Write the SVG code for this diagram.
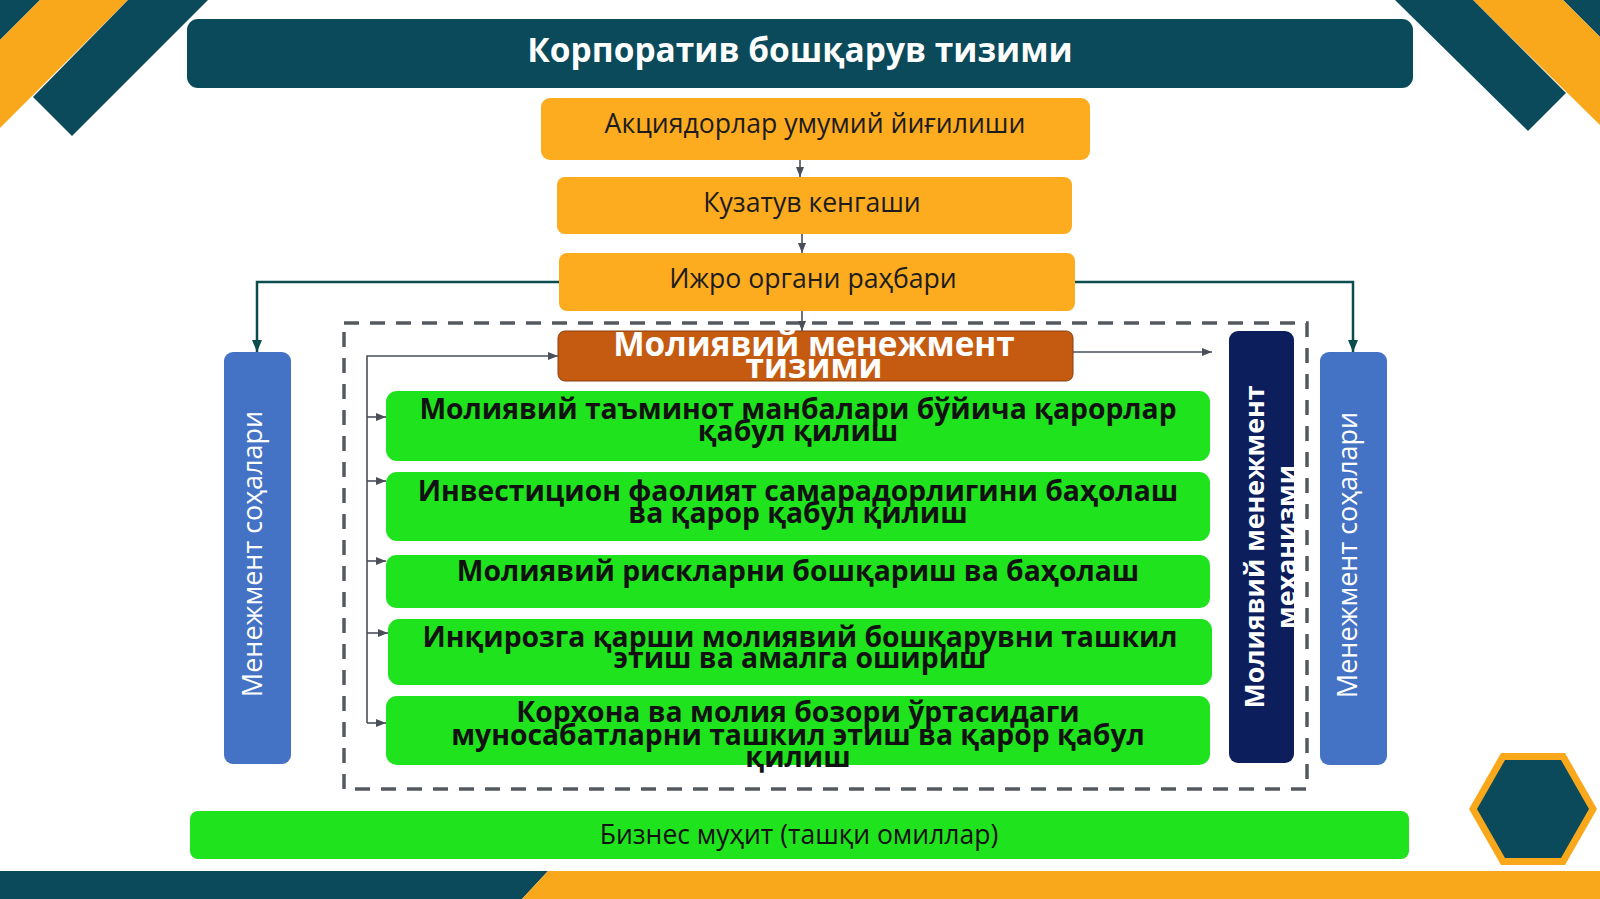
<svg xmlns="http://www.w3.org/2000/svg" width="1600" height="899" viewBox="0 0 1600 899">
<defs>
<style>
.t{font-family:"Open Sans","Noto Sans","DejaVu Sans",sans-serif}
.org{fill:#fdab1f}
.grn{fill:#1fe31c}
.ot{font-size:26.6px;fill:#1c1c1c;text-anchor:middle}
.gt{font-size:28.3px;font-weight:bold;fill:#111;text-anchor:middle}
.wt{fill:#fff;text-anchor:middle}
.cg{fill:none;stroke:#4a505a;stroke-width:1.6}
.ct{fill:none;stroke:#0b4c4c;stroke-width:2.5}
</style>
<marker id="ag" markerWidth="10" markerHeight="8" refX="10" refY="4" orient="auto" markerUnits="userSpaceOnUse"><path d="M0,0 L10,4 L0,8 Z" fill="#4a505a"/></marker>
<marker id="at" markerWidth="12" markerHeight="10" refX="12" refY="5" orient="auto" markerUnits="userSpaceOnUse"><path d="M0,0 L12,5 L0,10 Z" fill="#0b4c4c"/></marker>
</defs>
<rect width="1600" height="899" fill="#fff"/>
<g id="decor">
<polygon points="0,0 40,0 0,40" fill="#0b4a5a"/>
<polygon points="40,0 128,0 0,128 0,40" fill="#f9a81b"/>
<polygon points="128,0 208,0 72,136 33,97" fill="#0b4a5a"/>
<polygon points="1600,0 1563,0 1600,37" fill="#0b4a5a"/>
<polygon points="1473,0 1563,0 1600,37 1600,125" fill="#f9a81b"/>
<polygon points="1395,0 1473,0 1566,93 1528,131" fill="#0b4a5a"/>
<polygon points="0,871 548,871 522,899 0,899" fill="#0b4a5a"/>
<polygon points="548,871 1600,871 1600,899 522,899" fill="#f9a81b"/>
<polygon points="1469,809 1501,753 1565,753 1597,809 1565,865 1501,865" fill="#f9a81b"/>
<polygon points="1477,809 1505,760 1561,760 1589,809 1561,858 1505,858" fill="#0b4a5a"/>
</g>
<g id="title">
<rect x="187" y="19" width="1226" height="69" rx="11" fill="#0b4a5a"/>
<text class="t wt" x="800" y="62" font-size="33.5" font-weight="bold">Корпоратив бошқарув тизими</text>
</g>
<g id="dashed-frame">
<rect x="344" y="323" width="963" height="466" fill="none" stroke="#555a60" stroke-width="3.5" stroke-dasharray="15 11"/>
</g>
<g id="n-aksiyadorlar">
<rect class="org" x="541" y="98" width="549" height="62" rx="9"/>
<text class="t ot" x="815" y="133">Акциядорлар умумий йиғилиши</text>
</g>
<g id="n-kuzatuv">
<rect class="org" x="557" y="177" width="515" height="57" rx="8"/>
<text class="t ot" x="812" y="212">Кузатув кенгаши</text>
</g>
<g id="n-ijro">
<rect class="org" x="559" y="253" width="516" height="58" rx="8"/>
<text class="t ot" x="813" y="288">Ижро органи раҳбари</text>
</g>
<g id="n-tizim">
<rect x="558" y="331" width="515" height="50" rx="7" fill="#c55a11" stroke="#8a3e0c" stroke-width="1"/>
<text class="t wt" x="814" y="356" font-size="33.3" font-weight="bold">Молиявий менежмент</text>
<text class="t wt" x="814" y="378" font-size="33.3" font-weight="bold">тизими</text>
</g>
<g id="n-g1">
<rect class="grn" x="386" y="391" width="824" height="70" rx="11"/>
<text class="t gt" x="798" y="419">Молиявий таъминот манбалари бўйича қарорлар</text>
<text class="t gt" x="798" y="441">қабул қилиш</text>
</g>
<g id="n-g2">
<rect class="grn" x="386" y="472" width="824" height="69" rx="11"/>
<text class="t gt" x="798" y="501">Инвестицион фаолият самарадорлигини баҳолаш</text>
<text class="t gt" x="798" y="523">ва қарор қабул қилиш</text>
</g>
<g id="n-g3">
<rect class="grn" x="386" y="555" width="824" height="53" rx="10"/>
<text class="t gt" x="798" y="581">Молиявий рискларни бошқариш ва баҳолаш</text>
</g>
<g id="n-g4">
<rect class="grn" x="388" y="619" width="824" height="66" rx="11"/>
<text class="t gt" x="800" y="647">Инқирозга қарши молиявий бошқарувни ташкил</text>
<text class="t gt" x="800" y="668">этиш ва амалга ошириш</text>
</g>
<g id="n-g5">
<rect class="grn" x="386" y="696" width="824" height="69" rx="11"/>
<text class="t gt" x="798" y="722">Корхона ва молия бозори ўртасидаги</text>
<text class="t gt" x="798" y="745">муносабатларни ташкил этиш ва қарор қабул</text>
<text class="t gt" x="798" y="767">қилиш</text>
</g>
<g id="n-left-blue">
<rect x="224" y="352" width="67" height="412" rx="9" fill="#4472c4"/>
<text class="t wt" transform="translate(262,554) rotate(-90)" x="0" y="0" font-size="27">Менежмент соҳалари</text>
</g>
<g id="n-mexanizm">
<rect x="1229" y="331" width="65" height="432" rx="9" fill="#0c1e5c"/>
<text class="t wt" transform="translate(1264,547) rotate(-90)" x="0" y="0" font-size="26.8" font-weight="bold">Молиявий менежмент</text>
<text class="t wt" transform="translate(1296,547) rotate(-90)" x="0" y="0" font-size="26.8" font-weight="bold">механизми</text>
</g>
<g id="n-right-blue">
<rect x="1320" y="352" width="67" height="413" rx="9" fill="#4472c4"/>
<text class="t wt" transform="translate(1357,555) rotate(-90)" x="0" y="0" font-size="27">Менежмент соҳалари</text>
</g>
<g id="n-biznes">
<rect class="grn" x="190" y="811" width="1219" height="48" rx="8"/>
<text class="t" x="799" y="844" font-size="26.5" fill="#111" text-anchor="middle">Бизнес муҳит (ташқи омиллар)</text>
</g>
<g id="connectors">
<line class="cg" x1="800" y1="160" x2="800" y2="177" marker-end="url(#ag)"/>
<line class="cg" x1="802" y1="234" x2="802" y2="253" marker-end="url(#ag)"/>
<line class="cg" x1="802" y1="311" x2="802" y2="331" marker-end="url(#ag)"/>
<polyline class="ct" points="559,282 257,282 257,352" marker-end="url(#at)"/>
<polyline class="ct" points="1075,282 1353,282 1353,352" marker-end="url(#at)"/>
<line class="cg" x1="1073" y1="352" x2="1212" y2="352" marker-end="url(#ag)"/>
<polyline class="cg" points="367,723 367,356 558,356" marker-end="url(#ag)"/>
<line class="cg" x1="367" y1="417" x2="386" y2="417" marker-end="url(#ag)"/>
<line class="cg" x1="367" y1="481" x2="386" y2="481" marker-end="url(#ag)"/>
<line class="cg" x1="367" y1="561" x2="386" y2="561" marker-end="url(#ag)"/>
<line class="cg" x1="367" y1="633" x2="388" y2="633" marker-end="url(#ag)"/>
<line class="cg" x1="367" y1="723" x2="386" y2="723" marker-end="url(#ag)"/>
</g>
</svg>
